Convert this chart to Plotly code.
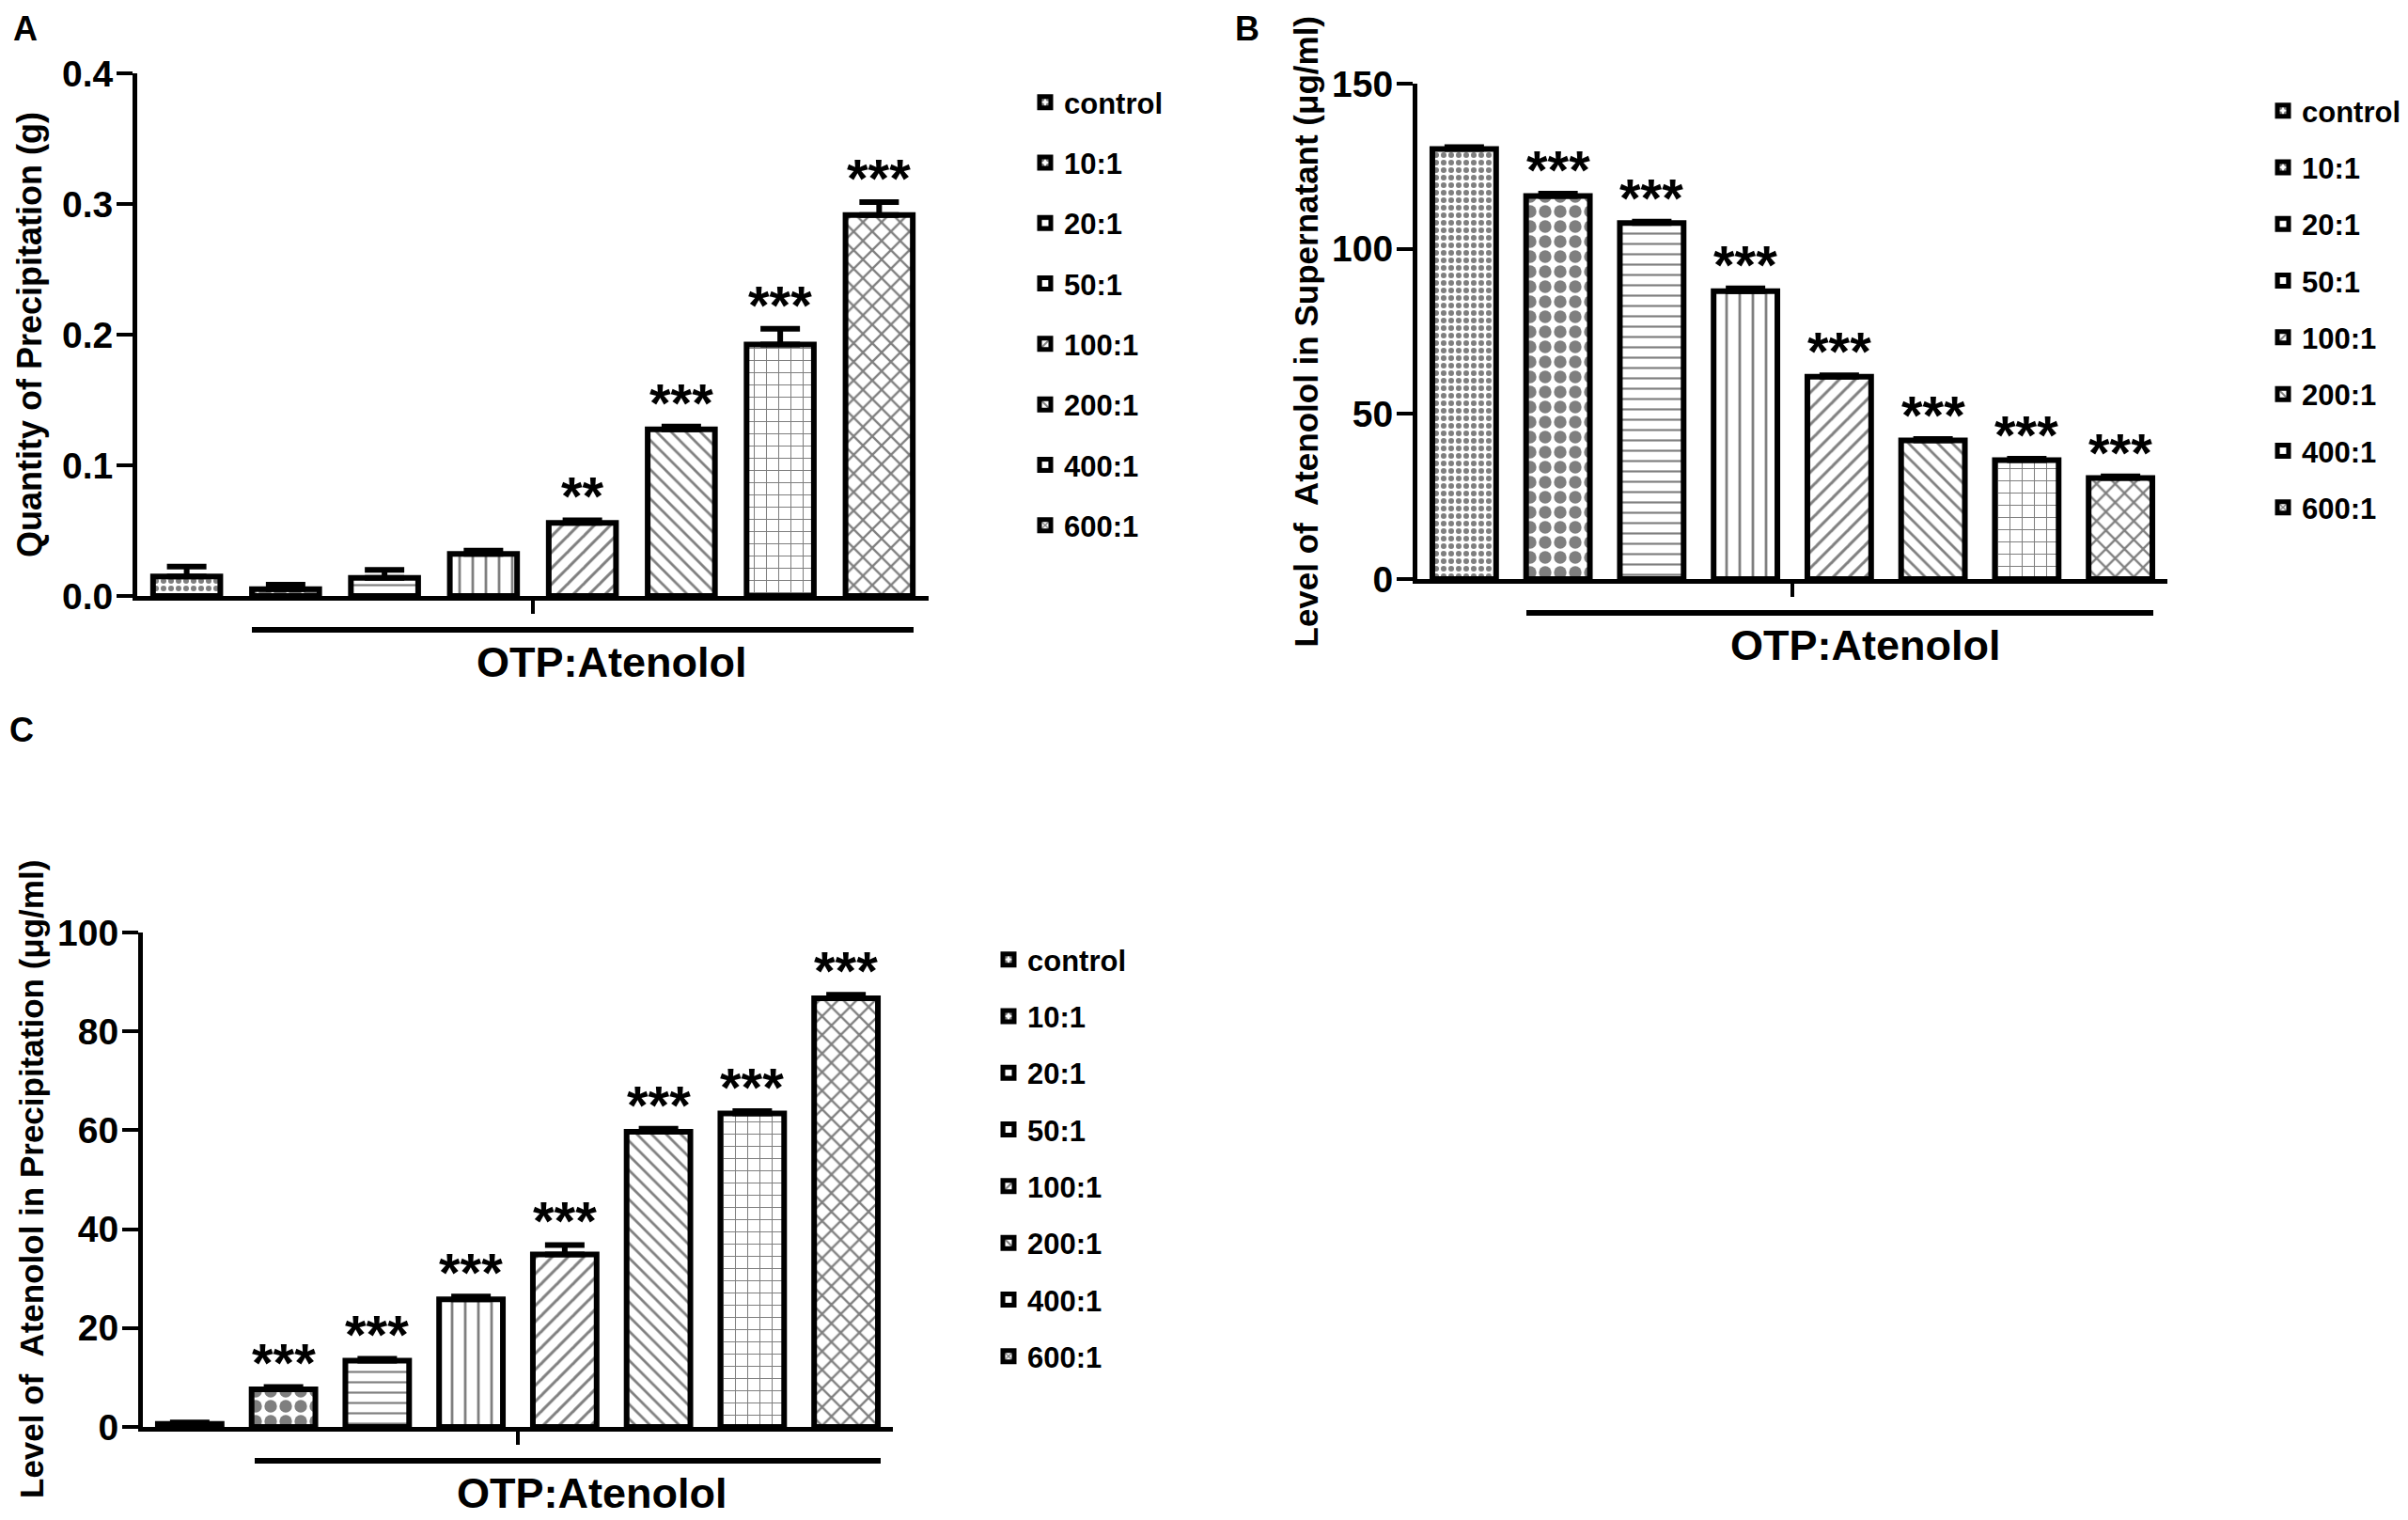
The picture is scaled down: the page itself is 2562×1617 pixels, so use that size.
import plotly.graph_objects as go

W, H = 2562, 1617
PAGE_OFFSET = 8  # the page body margin pushes the figure 8 px right and down

# data
categories = ["control", "10:1", "20:1", "50:1", "100:1", "200:1", "400:1", "600:1"]

precip_qty = [0.015, 0.0052, 0.0138, 0.0322, 0.0560, 0.1275, 0.1925, 0.2915]
precip_qty_err = [0.0075, 0.0035, 0.0062, 0.0025, 0.0020, 0.0022, 0.0120, 0.0100]
precip_qty_sig = ["", "", "", "", "**", "***", "***", "***"]

supernatant = [130.2, 116.0, 107.8, 87.2, 61.3, 42.0, 36.0, 30.6]
supernatant_err = [0.6, 0.7, 0.4, 0.8, 0.4, 0.4, 0.4, 0.5]
supernatant_sig = ["", "***", "***", "***", "***", "***", "***", "***"]

precip_level = [0.6, 7.6, 13.4, 25.8, 34.9, 59.7, 63.4, 86.7]
precip_level_err = [0.3, 0.5, 0.4, 0.6, 1.9, 0.6, 0.5, 0.7]
precip_level_sig = ["", "***", "***", "***", "***", "***", "***", "***"]

# fill pattern per group (shape, size, solidity)
patterns = [(".", 8, 0.45), (".", 16, 0.55), ("-", 11, 0.2), ("|", 14, 0.2),
            ("/", 12, 0.25), ("\\", 11, 0.25), ("+", 13, 0.15), ("x", 14, 0.3)]

FONT = "Liberation Sans, Arial, sans-serif"


def px_x(p):
    return (p - PAGE_OFFSET) / W


def px_y(p):
    return 1 - (p - PAGE_OFFSET) / H


# panel boxes in screen pixels: left, right, top, bottom
panels = [
    dict(name="A", x0=146, x1=988, y0=78, y1=634, vals=precip_qty, err=precip_qty_err,
         sig=precip_qty_sig, rng=[0, 0.4], dtick=0.1, fmt=".1f",
         title="Quantity of Precipitation (g)", tx=32, tsize=36,
         legx=1092, legy=82, leggap=21, label=(12, 8), br=(268, 972), otp=650),
    dict(name="B", x0=1508, x1=2306, y0=89, y1=616, vals=supernatant, err=supernatant_err,
         sig=supernatant_sig, rng=[0, 150], dtick=50, fmt="d",
         title="Level of  Atenolol in Supernatant (μg/ml)", tx=1389, tsize=35,
         legx=2409, legy=91, leggap=17, label=(1312, 8), br=(1624, 2291), otp=1984),
    dict(name="C", x0=152, x1=950, y0=992, y1=1518, vals=precip_level, err=precip_level_err,
         sig=precip_level_sig, rng=[0, 100], dtick=20, fmt="d",
         title="Level of  Atenolol in Precipitation (μg/ml)", tx=33, tsize=35,
         legx=1053, legy=994, leggap=17, label=(8, 754), br=(271, 937), otp=629),
]

fig = go.Figure()
annotations = []
shapes = []
layout = {}

for i, p in enumerate(panels):
    n = "" if i == 0 else str(i + 1)
    xa, ya, leg = "x" + n, "y" + n, "legend" + n
    for j, cat in enumerate(categories):
        shp, size, sol = patterns[j]
        fig.add_trace(go.Bar(
            x=[cat], y=[p["vals"][j]], name=cat,
            xaxis=xa, yaxis=ya, legend=leg, legendgroup=p["name"] + cat,
            width=0.68,
            marker=dict(color="white", line=dict(color="black", width=6),
                        pattern=dict(shape=shp, size=size, solidity=sol,
                                     fgcolor="black", bgcolor="white")),
            error_y=dict(type="data", array=[p["err"][j]], arrayminus=[0],
                         symmetric=False, color="black", thickness=6, width=21),
        ))
        if p["sig"][j]:
            annotations.append(dict(
                x=cat, y=p["vals"][j] + p["err"][j], xref=xa, yref=ya,
                text=p["sig"][j], showarrow=False, yanchor="bottom", yshift=-9,
                font=dict(family=FONT, size=58, color="black", weight="bold")))

    layout["xaxis" + n] = dict(
        domain=[px_x(p["x0"]), px_x(p["x1"])], anchor=ya,
        type="category", categoryorder="array", categoryarray=categories,
        range=[-0.5, 7.5], showticklabels=False, ticks="",
        showline=True, linecolor="black", linewidth=5, showgrid=False, zeroline=False)
    layout["yaxis" + n] = dict(
        domain=[px_y(p["y1"]), px_y(p["y0"])], anchor=xa,
        range=p["rng"], dtick=p["dtick"], tick0=0, tickformat=p["fmt"],
        ticks="outside", ticklen=17, tickwidth=4, tickcolor="black", ticklabelstandoff=-4,
        showline=True, linecolor="black", linewidth=5, showgrid=False, zeroline=False,
        tickfont=dict(family=FONT, size=39, color="black", weight="bold"))
    layout[leg] = dict(
        x=px_x(p["legx"]), y=px_y(p["legy"]), xanchor="left", yanchor="top",
        tracegroupgap=p["leggap"], bgcolor="rgba(0,0,0,0)",
        font=dict(family=FONT, size=31, color="black", weight="bold"))

    # y-axis title
    annotations.append(dict(
        x=px_x(p["tx"]), y=0.5, xref="paper", yref=ya + " domain", text=p["title"],
        textangle=-90, showarrow=False, xanchor="center", yanchor="middle",
        font=dict(family=FONT, size=p["tsize"], color="black", weight="bold")))
    # panel letter
    annotations.append(dict(
        x=px_x(p["label"][0]), y=px_y(p["label"][1]), xref="paper", yref="paper",
        text=p["name"], showarrow=False, xanchor="left", yanchor="top",
        font=dict(family=FONT, size=36, color="black", weight="bold")))
    # group label under the bracket
    annotations.append(dict(
        x=(p["otp"] - p["x0"]) / (p["x1"] - p["x0"]), y=0, xref=xa + " domain",
        yref=ya + " domain", text="OTP:Atenolol", showarrow=False,
        xanchor="center", yanchor="top", yshift=-43,
        font=dict(family=FONT, size=45, color="black", weight="bold")))

    # centre tick on the x axis and the group bracket
    shapes.append(dict(type="line", xref=xa + " domain", yref=ya + " domain",
                       ysizemode="pixel", yanchor=0, x0=0.5, x1=0.5, y0=0, y1=-19,
                       line=dict(color="black", width=4)))
    bx0 = (p["br"][0] - p["x0"]) / (p["x1"] - p["x0"])
    bx1 = (p["br"][1] - p["x0"]) / (p["x1"] - p["x0"])
    shapes.append(dict(type="line", xref=xa + " domain", yref=ya + " domain",
                       ysizemode="pixel", yanchor=0, x0=bx0, x1=bx1, y0=-36, y1=-36,
                       line=dict(color="black", width=6)))

fig.update_layout(
    width=W, height=H, margin=dict(l=0, r=0, t=0, b=0, autoexpand=False),
    paper_bgcolor="white", plot_bgcolor="white",
    barmode="overlay", annotations=annotations, shapes=shapes,
    **layout)

fig.write_html("out.html")
